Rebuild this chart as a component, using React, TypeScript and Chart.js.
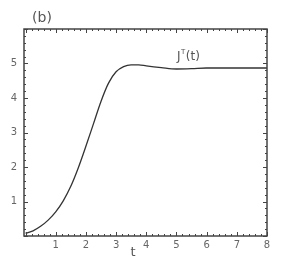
import React, { useEffect, useRef } from "react";
import { Chart, registerables } from "chart.js";

Chart.register(...registerables);

const tValues = [0, 0.25, 0.5, 0.75, 1, 1.25, 1.5, 1.75, 2, 2.25, 2.5, 2.75, 3, 3.25, 3.5, 3.75, 4, 4.5, 5, 5.5, 6, 6.5, 7, 7.5, 8];
const jValues = [0.08, 0.15, 0.28, 0.46, 0.7, 1.02, 1.44, 1.98, 2.6, 3.25, 3.9, 4.43, 4.76, 4.91, 4.96, 4.96, 4.93, 4.88, 4.84, 4.85, 4.87, 4.87, 4.87, 4.87, 4.87];
const xTickLabels = ["1", "2", "3", "4", "5", "6", "7", "8"];
const yTickLabels = ["1", "2", "3", "4", "5"];

const AXIS_COLOR = "#444";
const TEXT_COLOR = "#666";

const framePlugin = {
  id: "frame",
  afterDraw(chart: any) {
    const { ctx, chartArea } = chart;
    const { left, right, top, bottom } = chartArea;
    const xs = chart.scales.x;
    const ys = chart.scales.y;
    ctx.save();
    ctx.strokeStyle = AXIS_COLOR;
    ctx.lineWidth = 1;
    for (let i = 0; i <= 40; i++) {
      const v = i * 0.2;
      const px = Math.round(xs.getPixelForValue(v)) + 0.5;
      const len = i % 5 === 0 ? 4 : 2;
      ctx.beginPath();
      ctx.moveTo(px, bottom);
      ctx.lineTo(px, bottom - len);
      ctx.moveTo(px, top);
      ctx.lineTo(px, top + len);
      ctx.stroke();
    }
    for (let i = 0; i <= 30; i++) {
      const v = i * 0.2;
      const py = Math.round(ys.getPixelForValue(v)) + 0.5;
      const len = i % 5 === 0 ? 4 : 2;
      ctx.beginPath();
      ctx.moveTo(left, py);
      ctx.lineTo(left + len, py);
      ctx.moveTo(right, py);
      ctx.lineTo(right - len, py);
      ctx.stroke();
    }
    ctx.lineWidth = 1.5;
    ctx.strokeRect(left, top, right - left, bottom - top);
    ctx.fillStyle = "#555";
    ctx.textBaseline = "middle";
    ctx.textAlign = "center";
    ctx.font = "14px 'DejaVu Sans'";
    ctx.fillText("(b)", 42, 18);
    ctx.font = "13px 'DejaVu Sans'";
    ctx.fillText("t", 133, 253);
    ctx.textAlign = "left";
    ctx.font = "12px 'DejaVu Sans'";
    ctx.fillText("J", 177, 57);
    const jw = ctx.measureText("J").width;
    ctx.font = "7px 'DejaVu Sans'";
    ctx.fillText("T", 177 + jw + 0.5, 52);
    const tw = ctx.measureText("T").width;
    ctx.font = "12px 'DejaVu Sans'";
    ctx.fillText("(t)", 177 + jw + tw + 1, 57);
    ctx.restore();
  },
};

export default function App() {
  const ref = useRef<HTMLCanvasElement | null>(null);
  useEffect(() => {
    if (!ref.current) return;
    const chart = new Chart(ref.current, {
      type: "line",
      data: {
        datasets: [
          {
            data: tValues.map((t, i) => ({ x: t, y: jValues[i] })),
            borderColor: "#333",
            borderWidth: 1.3,
            pointRadius: 0,
            cubicInterpolationMode: "monotone",
            fill: false,
          },
        ],
      },
      options: {
        animation: false,
        responsive: false,
        maintainAspectRatio: false,
        layout: { padding: { left: 0, top: 29, right: 15, bottom: 0 } },
        plugins: { legend: { display: false }, tooltip: { enabled: false } },
        scales: {
          x: {
            type: "linear",
            min: -0.05,
            max: 8,
            grid: { display: false, drawTicks: false },
            border: { display: false },
            afterFit: (s: any) => {
              s.height = 29;
            },
            afterBuildTicks: (s: any) => {
              s.ticks = xTickLabels.map((l) => ({ value: Number(l) }));
            },
            ticks: {
              color: TEXT_COLOR,
              font: { family: "DejaVu Sans", size: 10 },
              padding: 3,
              callback: (v: any) => String(v),
            },
          },
          y: {
            type: "linear",
            min: 0,
            max: 6,
            grid: { display: false, drawTicks: false },
            border: { display: false },
            afterFit: (s: any) => {
              s.width = 24;
            },
            afterBuildTicks: (s: any) => {
              s.ticks = yTickLabels.map((l) => ({ value: Number(l) }));
            },
            ticks: {
              color: TEXT_COLOR,
              font: { family: "DejaVu Sans", size: 10 },
              padding: 7,
              callback: (v: any) => String(v),
            },
          },
        },
      },
      plugins: [framePlugin],
    });
    return () => chart.destroy();
  }, []);
  return (
    <div style={{ position: "fixed", left: 0, top: 0, width: 282, height: 265, background: "#fff" }}>
      <canvas ref={ref} width={282} height={265} style={{ width: 282, height: 265 }} />
    </div>
  );
}
